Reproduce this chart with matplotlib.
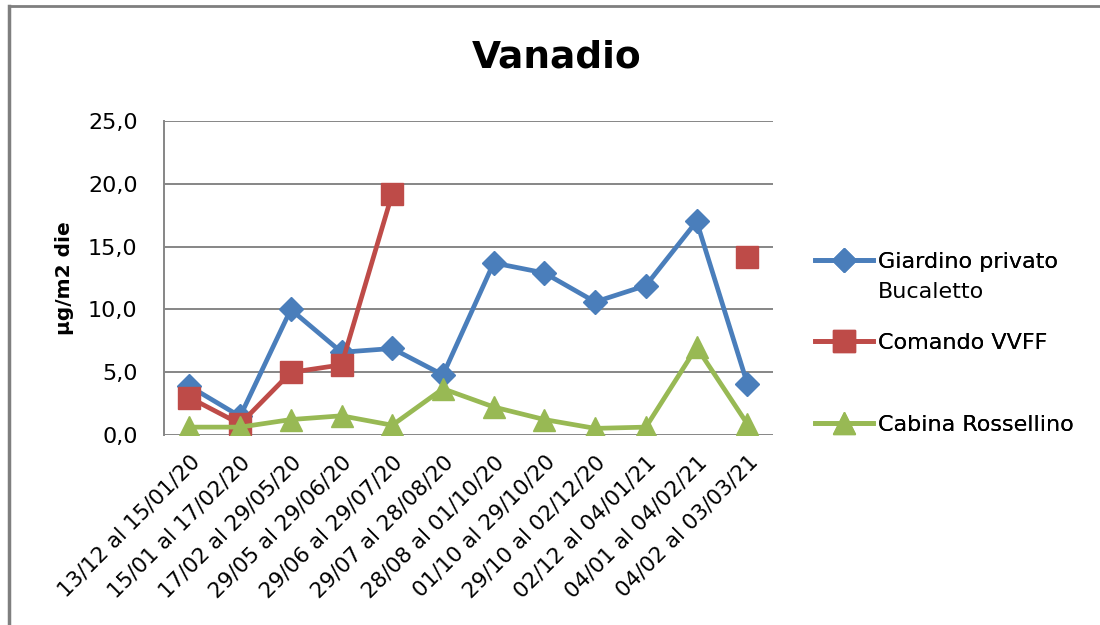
import numpy as np
import matplotlib
matplotlib.use("Agg")
import matplotlib.pyplot as plt
from matplotlib.lines import Line2D

plt.rcParams['font.family'] = ['DejaVu Sans']

# categories (sampling periods)
periodi = ['13/12 al 15/01/20', '15/01 al 17/02/20', '17/02 al 29/05/20',
           '29/05 al 29/06/20', '29/06 al 29/07/20', '29/07 al 28/08/20',
           '28/08 al 01/10/20', '01/10 al 29/10/20', '29/10 al 02/12/20',
           '02/12 al 04/01/21', '04/01 al 04/02/21', '04/02 al 03/03/21']

# series values (µg/m2 die)
giardino = [3.9, 1.5, 10.0, 6.6, 6.9, 4.8, 13.7, 12.9, 10.6, 11.9, 17.0, 4.1]
comando = [3.0, 0.9, 5.0, 5.6, 19.2, np.nan, np.nan, np.nan, np.nan, np.nan, np.nan, 14.2]
cabina = [0.65, 0.65, 1.25, 1.55, 0.8, 3.7, 2.25, 1.25, 0.55, 0.65, 7.0, 0.9]

yticks = [0, 5, 10, 15, 20, 25]
ytick_labels = ['0,0', '5,0', '10,0', '15,0', '20,0', '25,0']

blue = '#4A7EBB'
red = '#BE4B48'
green = '#98B954'
grid_col = '#868686'

fig = plt.figure(figsize=(11, 6.25), dpi=100)
ax = fig.add_axes([164/1100, 1 - 435.3/625, (772.7-164)/1100, (435.3-120.7)/625])

x = np.arange(len(periodi))
h1, = ax.plot(x, giardino, color=blue, lw=3.4, marker='D', ms=12, zorder=3)
h2, = ax.plot(x, comando, color=red, lw=3.4, marker='s', ms=16, zorder=4)
h3, = ax.plot(x, cabina, color=green, lw=3.4, marker='^', ms=16, zorder=5)

ax.set_xlim(-0.5, len(periodi) - 0.5)
ax.set_ylim(0, 25)
ax.set_yticks(yticks)
ax.set_yticklabels(ytick_labels)
ax.yaxis.grid(True, color=grid_col, lw=1.4)
ax.set_axisbelow(True)
for s in ['top', 'right', 'bottom']:
    ax.spines[s].set_visible(False)
ax.spines['left'].set_color(grid_col)
ax.spines['left'].set_linewidth(1.4)
ax.tick_params(axis='y', length=0, pad=19, labelsize=16)
ax.set_xticks(x)
ax.set_xticklabels(periodi, rotation=45, ha='right', rotation_mode='anchor', fontsize=15.5)
ax.tick_params(axis='x', length=0, pad=12)

ax.set_ylabel('µg/m2 die', fontsize=14.5, fontweight='bold')
ax.yaxis.set_label_coords(-90/608.7, 0.5)

fig.text(557/1100, 1 - 57/625, 'Vanadio', fontsize=27, fontweight='bold',
         ha='center', va='center')

# legend entries, one at a time to keep Excel-like spacing
entries = [(h1, 'Giardino privato', 262), (h2, 'Comando VVFF', 343), (h3, 'Cabina Rossellino', 425)]
for h, lab, ypix in entries:
    lg = fig.legend([h], [lab], loc='center left', bbox_to_anchor=(815/1100, 1 - ypix/625),
                    frameon=False, fontsize=16, borderpad=0, borderaxespad=0,
                    handlelength=2.6, handletextpad=0.25)
    fig.add_artist(lg)
fig.text(878/1100, 1 - 292/625, 'Bucaletto', fontsize=16, ha='left', va='center')

# outer frame (left and top only visible)
fig.add_artist(Line2D([9/1100, 9/1100], [0, 1 - 6/625], color='#7F7F7F', lw=2.5, transform=fig.transFigure))
fig.add_artist(Line2D([9/1100, 1], [1 - 6/625, 1 - 6/625], color='#7F7F7F', lw=2.0, transform=fig.transFigure))

fig.savefig('out.png', dpi=100)
